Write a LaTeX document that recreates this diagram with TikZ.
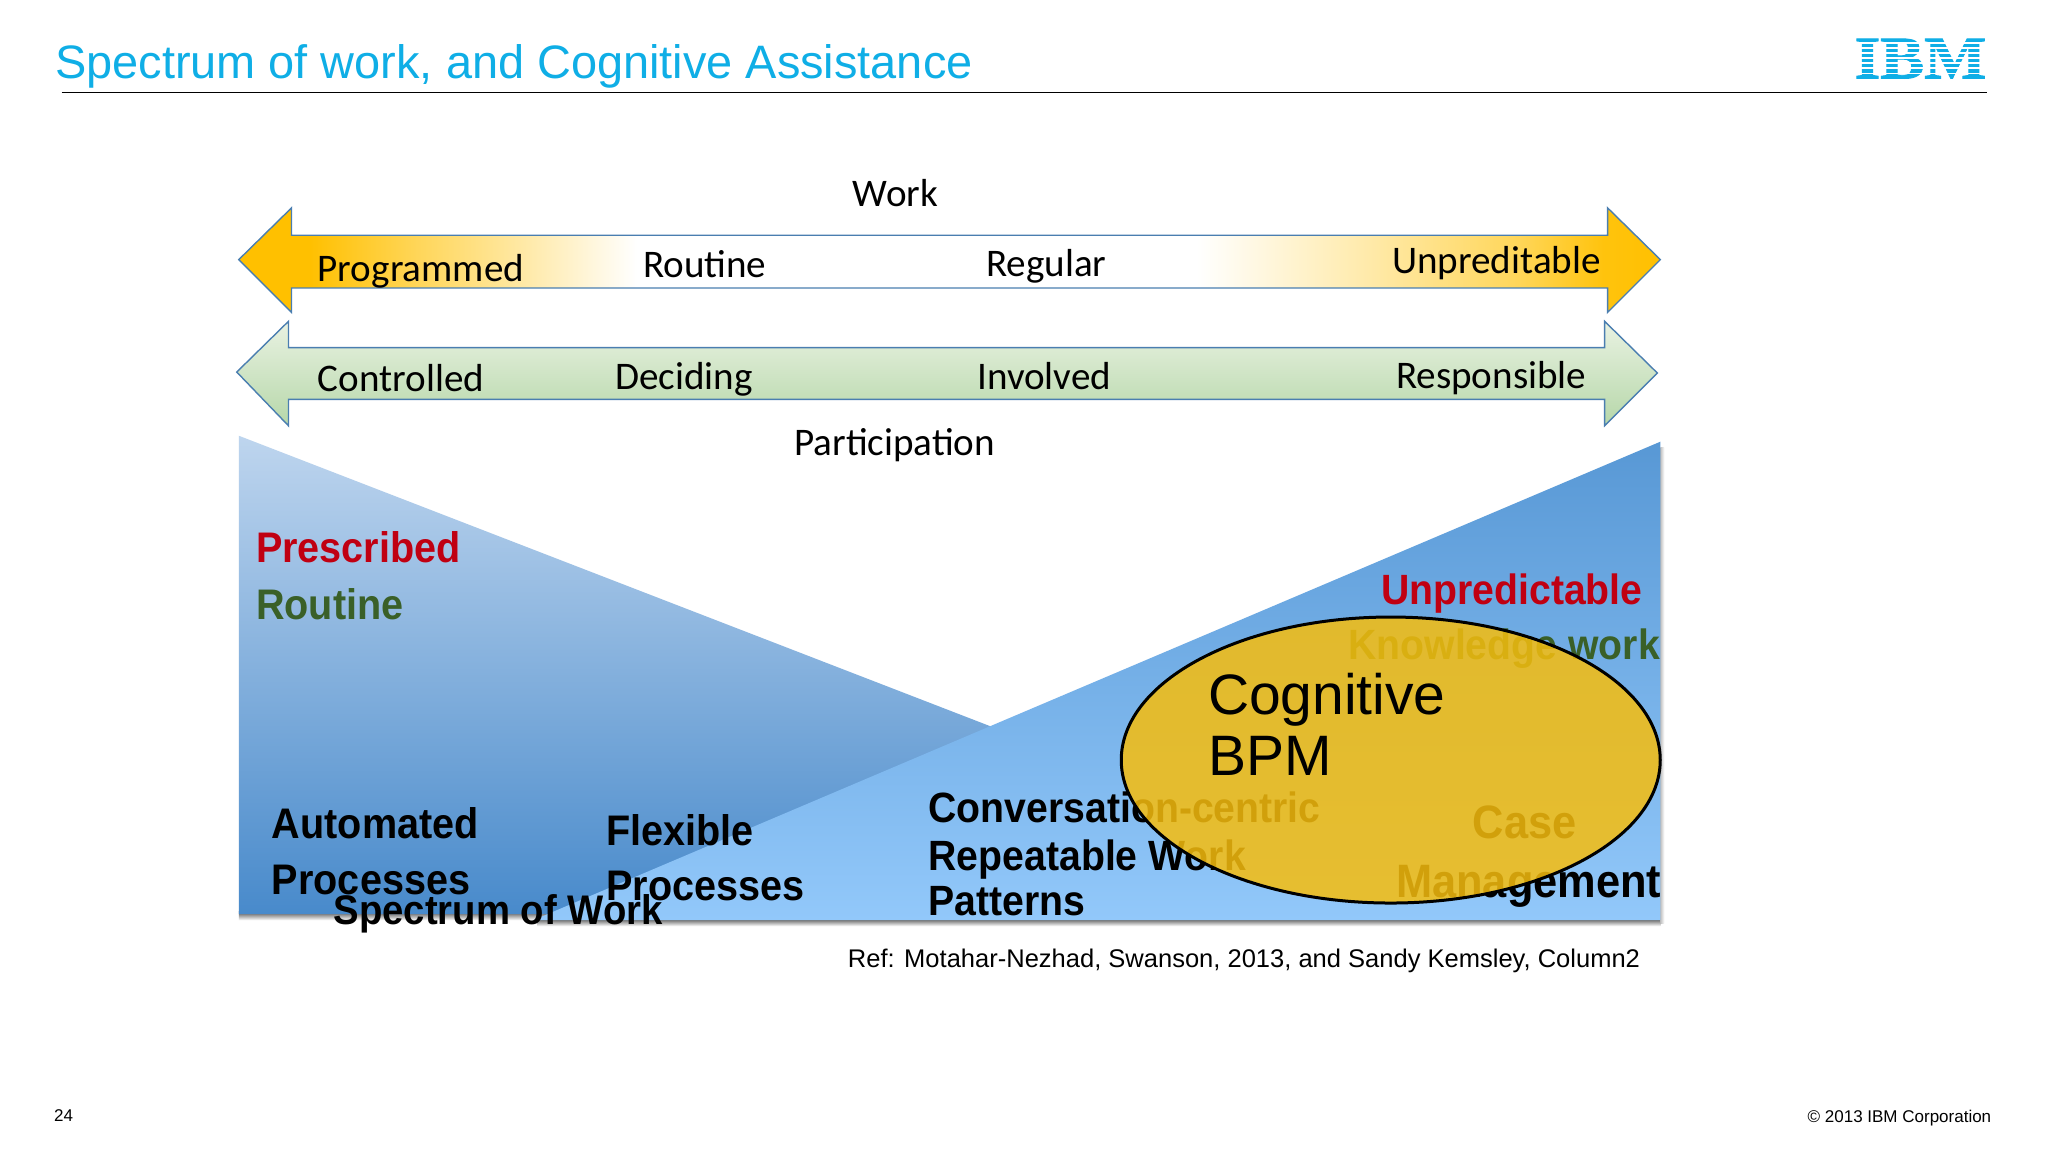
\documentclass[tikz,border=0pt]{standalone}
\usepackage{fontspec}
\setmainfont{Liberation Sans}
\newfontfamily\calfont{Carlito}
\newfontfamily\logofont{Liberation Serif}[BoldFeatures={FakeBold=1.5}]
\usetikzlibrary{shapes.geometric}
\definecolor{ibmblue}{HTML}{0FAEE6}
\definecolor{titleblue}{HTML}{0FAEE6}
\definecolor{arrowline}{HTML}{4A7EB0}
\definecolor{amber}{HTML}{FFC000}
\definecolor{redtxt}{HTML}{C00012}
\definecolor{greentxt}{HTML}{3A6028}
\definecolor{greentop}{HTML}{E9F2E2}
\definecolor{greenbot}{HTML}{B6D7A9}
\definecolor{cogfill}{RGB}{246,189,14}
\definecolor{tritopA}{RGB}{190,213,238}
\definecolor{tribotA}{RGB}{72,138,203}
\definecolor{tritopB}{RGB}{88,152,213}
\definecolor{tribotB}{RGB}{146,200,250}
\pgfdeclareverticalshading{amberfade}{100bp}{color(0bp)=(amber);color(25bp)=(amber);color(27bp)=(amber!95!white);color(30bp)=(amber!65!white);color(35bp)=(amber!35!white);color(41.3bp)=(white);color(61bp)=(white);color(65bp)=(amber!35!white);color(68.7bp)=(amber!65!white);color(72.5bp)=(amber);color(75bp)=(amber);color(100bp)=(amber)}
\tikzset{
  x=0.4974pt,y=-0.4974pt,
  arrowshape/.style={draw=arrowline,line width=0.7pt,line join=miter},
  orangearrow/.style={arrowshape,shading=amberfade,shading angle=90},
  greenarrow/.style={arrowshape,top color=greentop,bottom color=greenbot},
  cal/.style={anchor=base west,inner sep=0pt,yshift=-0.6pt,font=\calfont\fontsize{19.55}{22}\selectfont,text=black},
  bold/.style={anchor=base west,inner sep=0pt,yshift=-1.3pt,yscale=1.08,transform shape,font=\bfseries\fontsize{19.8}{24}\selectfont,text=black},
  boldsm/.style={bold,font=\bfseries\fontsize{19.6}{24}\selectfont},
  boldspec/.style={bold,font=\bfseries\fontsize{19.15}{24}\selectfont},
  boldlg/.style={bold,font=\bfseries\fontsize{21.7}{24}\selectfont},
  small/.style={anchor=base west,inner sep=0pt,font=\fontsize{8.5}{10}\selectfont,text=black},
  big/.style={anchor=base west,inner sep=0pt,font=\fontsize{28.5}{31}\selectfont,text=black},
  fade/.style={top color=black!70,bottom color=white,draw=none},
}
\begin{document}
\begin{tikzpicture}
\useasboundingbox[fill=white] (0,0) rectangle (2058.7,1158);
% header
\node[anchor=base west,inner sep=0pt,text=titleblue,font=\fontsize{23.45}{28}\selectfont] (title) at (55,79) {Spectrum of work, and Cognitive Assistance};
\coordinate (ruleL) at (62,93);
\coordinate (ruleR) at (1997,93);
\draw[black,line width=0.7pt] (ruleL) -- (ruleR);
% logo
\node[inner sep=0pt,text=ibmblue,font=\logofont\bfseries\fontsize{30.2}{31}\selectfont,xscale=1.09,transform shape] (ibm) at (1930.5,59) {IBM};
\foreach \yy in {43.1,48.2,53.4,58.5,63.6,68.7,73.9}
  \draw[white,line width=0.9pt] (1855,\yy) -- (2005,\yy);
% top arrows
\path[orangearrow] (240,261) -- (293,209) -- (293,236.5) -- (1616,236.5) -- (1616,209) -- (1669,261) -- (1616,314) -- (1616,289.5) -- (293,289.5) -- (293,314) -- cycle;
\path[greenarrow] (238,374) -- (290,323) -- (290,349.5) -- (1613,349.5) -- (1613,323) -- (1666,375) -- (1613,428) -- (1613,401.5) -- (290,401.5) -- (290,428) -- cycle;
% arrow labels
\node[cal] (work) at (857,206) {Work};
\node[cal] (prog) at (319,282) {Programmed};
\node[cal] (rout) at (646,278) {Routine};
\node[cal] (regu) at (991,277) {Regular};
\node[cal] (unpr) at (1399,274) {Unpreditable};
\node[cal] (cont) at (319,392) {Controlled};
\node[cal] (deci) at (618,390) {Deciding};
\node[cal] (invo) at (982,390) {Involved};
\node[cal] (resp) at (1403,389) {Responsible};
\node[cal] (part) at (798,457) {Participation};
% shadows
\shade[fade] (240,916) rectangle (560,925);
\shade[fade] (540,923) rectangle (1669,931);
\shade[left color=black!25,right color=white,draw=none] (1669,450) rectangle (1673,928);
% triangles
\path[top color=tritopA,bottom color=tribotA] (240,438) -- (998,731) -- (552,919) -- (240,919) -- cycle;
\path[top color=tritopB,bottom color=tribotB] (1669,444) -- (1669,925) -- (536,925) -- cycle;
% lower labels
\node[bold,text=redtxt] (prescribed) at (257,563) {Prescribed};
\node[bold,text=greentxt] (routine2) at (257,620) {Routine};
\node[bold] (auto) at (273,840) {Automated};
\node[bold] (proc1) at (273,897) {Processes};
\node[bold] (flex) at (609,847) {Flexible};
\node[bold] (proc2) at (609,903) {Processes};
\node[boldspec] (spec) at (335,927) {Spectrum of Work};
\node[boldsm] (conv) at (933,824) {Conversation-centric};
\node[boldsm] (repe) at (933,872) {Repeatable Work};
\node[boldsm] (patt) at (933,918) {Patterns};
\node[boldsm,text=redtxt] (unpred) at (1388,605) {Unpredictable};
\node[boldsm,text=greentxt] (know) at (1355,660) {Knowledge work};
\node[boldlg] (case) at (1480,840) {Case};
\node[boldlg] (mana) at (1403,900) {Management};
% ellipse
\node[ellipse,inner sep=0pt,minimum width=269.5pt,minimum height=143pt,fill=cogfill,fill opacity=0.85,draw=black,draw opacity=1,line width=1.5pt] (cog) at (1398,764) {};
\node[big] (cogn) at (1214,718) {Cognitive};
\node[big] (bpm) at (1214,780) {BPM};
% footer
\node[anchor=base west,inner sep=0pt,font=\fontsize{12.76}{15}\selectfont,text=black] (ref) at (852,973) {Ref: Motahar-Nezhad, Swanson, 2013, and Sandy Kemsley, Column2};
\node[small] (page) at (54,1127) {24};
\node[small,anchor=base east] (copy) at (2002,1128) {© 2013 IBM Corporation};
\end{tikzpicture}
\end{document}
